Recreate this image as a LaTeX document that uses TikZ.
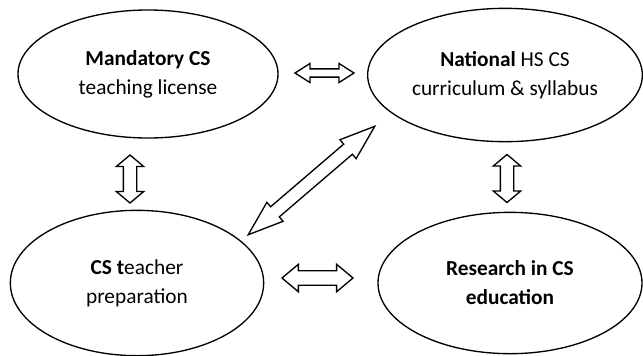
\documentclass[tikz,border=0pt]{standalone}
\usepackage{fontspec}
\setmainfont{Carlito}
\usetikzlibrary{shapes.geometric,shapes.arrows}

\tikzset{
  topic/.style={ellipse, draw, line width=1pt, inner sep=0pt, align=center,
    font=\fontsize{16}{21.75}\selectfont},
  link/.style={double arrow, draw, line width=1pt, inner xsep=0pt, minimum width=0pt}
}

\begin{document}
\begin{tikzpicture}[x=0.75pt, y=-0.75pt]
    \useasboundingbox (0,0) rectangle (643,355);

    % the four topics
    \node[topic, minimum width=195pt, minimum height=96pt] (mand) at (148,74)
    {\textbf{Mandatory CS}\\teaching license};
    \node[topic, minimum width=206pt, minimum height=100pt] (natl) at (505,75)
    {\textbf{National} HS CS\\curriculum \& syllabus};
    \node[topic, minimum width=190pt, minimum height=109pt] (prep) at (137,283)
    {\textbf{CS t}eacher\\preparation};
    \node[topic, minimum width=198pt, minimum height=106pt] (research) at (510,283)
    {\textbf{Research in CS}\\\textbf{education}};

    % two-way links
    \node[link, minimum height=44.25pt, inner ysep=2.6pt,
      double arrow head extend=4.1pt, double arrow tip angle=65] (mandnatl) at (324.5,73) {};
    \node[link, minimum height=53.25pt, inner ysep=4.9pt,
      double arrow head extend=4.9pt, double arrow tip angle=80] (prepresearch) at (317.5,278) {};
    \node[link, rotate=90, minimum height=36pt, inner ysep=4.5pt,
      double arrow head extend=5.25pt, double arrow tip angle=100] (mandprep) at (130,179) {};
    \node[link, rotate=90, minimum height=36pt, inner ysep=4.5pt,
      double arrow head extend=5.25pt, double arrow tip angle=100] (natlresearch) at (507,178.5) {};
    \node[link, rotate=40.6, minimum height=125pt, inner ysep=4.5pt,
      double arrow head extend=4.35pt, double arrow tip angle=39] (prepnatl) at (311.5,180.5) {};

\end{tikzpicture}
\end{document}
